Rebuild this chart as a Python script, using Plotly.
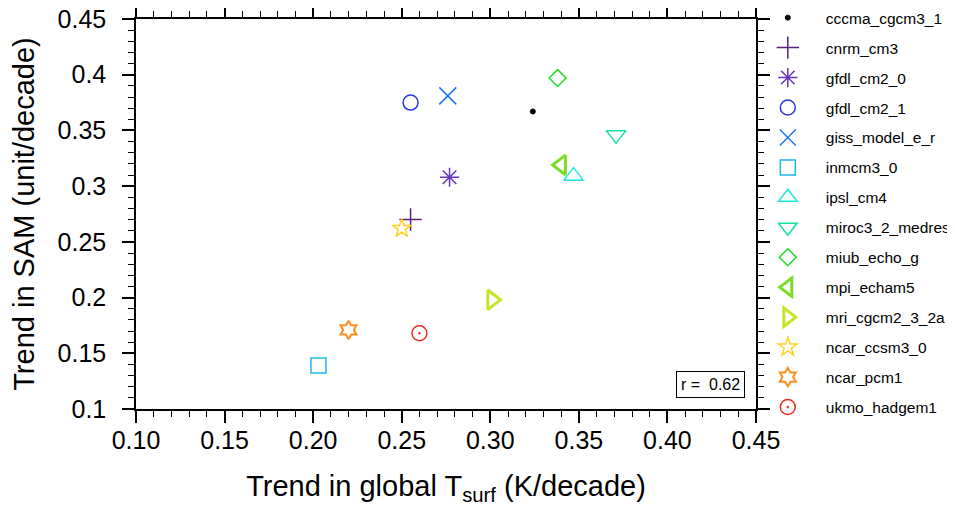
import plotly.graph_objects as go

models = ["cccma_cgcm3_1", "cnrm_cm3", "gfdl_cm2_0", "gfdl_cm2_1", "giss_model_e_r",
          "inmcm3_0", "ipsl_cm4", "miroc3_2_medres", "miub_echo_g", "mpi_echam5",
          "mri_cgcm2_3_2a", "ncar_ccsm3_0", "ncar_pcm1", "ukmo_hadgem1"]
tsurf_trend = [0.324, 0.255, 0.277, 0.255, 0.276, 0.203, 0.347, 0.371, 0.338, 0.340,
               0.301, 0.250, 0.220, 0.260]
sam_trend = [0.367, 0.270, 0.308, 0.375, 0.381, 0.139, 0.309, 0.346, 0.397, 0.319,
             0.198, 0.262, 0.171, 0.168]
colors = ["#000000", "#5A1E82", "#6A35C0", "#2B36E6", "#1E78F0", "#1EB8EE", "#1EE6DC",
          "#14E296", "#1EDC28", "#7CDC28", "#C4E628", "#FFD21E", "#FF8C1E", "#EB2D1E"]
symbols = ["circle", "cross-thin-open", "asterisk-open", "circle-open", "x-thin-open",
           "square-open", "triangle-up-open", "triangle-down-open", "diamond-open",
           "triangle-left-open", "triangle-right-open", "star-open", "hexagram-open",
           "circle-open-dot"]
sizes = [5, 16, 16, 15, 17, 15, 17, 17, 13, 17, 17, 14, 14, 15]
widths = [1, 1.5, 1.5, 1.5, 1.5, 1.5, 1.5, 1.5, 1.5, 3, 3, 1.5, 2, 1.5]
r_label = "r =  0.62"
xticks = [0.10, 0.15, 0.20, 0.25, 0.30, 0.35, 0.40, 0.45]
yticks = [0.1, 0.15, 0.2, 0.25, 0.3, 0.35, 0.4, 0.45]

FONT = "Liberation Sans, Arial, Helvetica, sans-serif"

fig = go.Figure()
for i, m in enumerate(models):
    fig.add_trace(go.Scatter(
        x=[tsurf_trend[i]], y=[sam_trend[i]], mode="markers", name=m,
        legendgroup=m,
        marker=dict(symbol=symbols[i], size=sizes[i], color=colors[i],
                    line=dict(color=colors[i], width=widths[i])),
    ))

axis_common = dict(
    showline=True, linecolor="black", linewidth=1.5, mirror="allticks",
    ticks="outside", ticklen=12, tickwidth=1.5, tickcolor="black",
    showgrid=False, zeroline=False, ticklabeloverflow="allow",
    tickfont=dict(family=FONT, size=25, color="black"),
    minor=dict(ticks="outside", ticklen=6, tickwidth=1, tickcolor="black", dtick=0.01, showgrid=False),
)

fig.update_xaxes(
    range=[0.10, 0.45], tickvals=xticks, ticktext=[f"{v:.2f}" for v in xticks],
    ticklabelstandoff=-4,
    title=dict(text="Trend in global T<sub>surf</sub> (K/decade)",
               font=dict(family=FONT, size=29, color="black"), standoff=25),
    **axis_common,
)
fig.update_yaxes(
    range=[0.1, 0.45], tickvals=yticks, ticktext=[f"{v:g}" for v in yticks],
    ticklabelstandoff=11,
    title=dict(text="Trend in SAM (unit/decade)",
               font=dict(family=FONT, size=29, color="black"), standoff=26),
    **axis_common,
)

fig.add_annotation(
    text=r_label, xref="paper", yref="paper", x=0.982, y=0.027,
    xanchor="right", yanchor="bottom", showarrow=False,
    font=dict(family=FONT, size=16, color="black"),
    bordercolor="black", borderwidth=1, borderpad=4, bgcolor="white",
)

fig.update_layout(
    width=947, height=498,
    margin=dict(l=128, r=199, t=11, b=97, autoexpand=False),
    paper_bgcolor="white", plot_bgcolor="white",
    showlegend=True,
    legend=dict(x=0.99, y=1.046, xanchor="left", yanchor="top",
                font=dict(family=FONT, size=15.5, color="black"),
                itemwidth=66, tracegroupgap=6.8, bgcolor="rgba(0,0,0,0)",
                borderwidth=0, maxheight=498),
)

fig.write_html("out.html")
